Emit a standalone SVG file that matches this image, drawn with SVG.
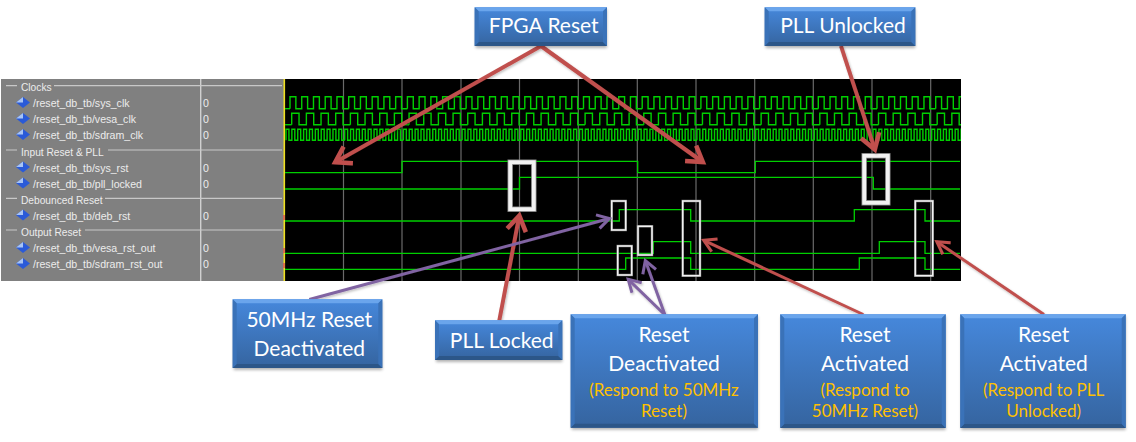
<svg xmlns="http://www.w3.org/2000/svg" xmlns:xlink="http://www.w3.org/1999/xlink" width="1136" height="442" viewBox="0 0 1136 442">
<style>
.bg{fill:#fff}
.sig{font:10.6px "Liberation Sans",Arial,sans-serif;fill:#ececec}
.head{font:10.2px "Liberation Sans",Arial,sans-serif;fill:#ececec}
.hdr{stroke:#c8c8c8;stroke-width:1.2;fill:none}
.wave{fill:none;stroke:#00d000;stroke-width:1.3}
.clk{fill:none;stroke:#00d000;stroke-width:1.4}
.grid{stroke:#6a6a6a;stroke-width:1.2}
.t{font:21px Lato,"Liberation Sans",sans-serif;fill:#fff;text-anchor:middle}
.o{font:17px Lato,"Liberation Sans",sans-serif;fill:#ffc000;text-anchor:middle}
.box{fill:url(#bg)}
.top{fill:#6aa5ec}
.side{fill:#3a72b8}
.bot{fill:#2c5688}
.shade{fill:#000;opacity:.3;filter:url(#blur)}
.hlo{fill:none;stroke:#8a8a8a}
.hli{fill:none;stroke:#f2f2f2}
.red{fill:none;stroke:#c0504d;stroke-width:4;marker-end:url(#ar)}
.redt{fill:none;stroke:#c0504d;stroke-width:3;marker-end:url(#ars)}
.pur{fill:none;stroke:#8064a2;stroke-width:3;marker-end:url(#ap)}
.dia{fill:#2a5ad8}
.dib{fill:#a8c4f4}
.tick{stroke:#e05050;stroke-width:1.5}
</style>
<defs>
<linearGradient id="bg" x1="0" y1="0" x2="0" y2="1"><stop offset="0" stop-color="#4688dc"/><stop offset="1" stop-color="#35649f"/></linearGradient>
<filter id="blur" x="-10%" y="-20%" width="120%" height="140%"><feGaussianBlur stdDeviation="1.5"/></filter>
<filter id="cs" x="-5%" y="-5%" width="110%" height="110%"><feDropShadow dx="1" dy="1.5" stdDeviation="1" flood-color="#000" flood-opacity=".25"/></filter>
<marker id="ar" markerUnits="userSpaceOnUse" viewBox="-22 -14 30 28" refX="0" refY="0" markerWidth="30" markerHeight="28" orient="auto"><path d="M-15 -9.5L0 0L-15 9.5" fill="none" stroke="#c0504d" stroke-width="4.5"/></marker>
<marker id="ars" markerUnits="userSpaceOnUse" viewBox="-18 -12 26 24" refX="0" refY="0" markerWidth="26" markerHeight="24" orient="auto"><path d="M-12 -7L0 0L-12 7" fill="none" stroke="#c0504d" stroke-width="3"/></marker>
<marker id="ap" markerUnits="userSpaceOnUse" viewBox="-18 -12 26 24" refX="0" refY="0" markerWidth="26" markerHeight="24" orient="auto"><path d="M-12 -7L0 0L-12 7" fill="none" stroke="#8064a2" stroke-width="3"/></marker>
<clipPath id="wc"><rect x="285" y="79" width="676" height="202"/></clipPath>
<path id="sysT" d="M0 12V0h5.87v12h5.87v-12h5.87v12h5.87v-12h5.87v12h5.87v-12h5.87v12h5.87v-12h5.87v12h5.87"/>
<path id="vesaT" d="M0 11.4V0h7.335v11.4h7.335v-11.4h7.335v11.4h7.335v-11.4h7.335v11.4h7.335v-11.4h7.335v11.4h7.335"/>
<path id="sdT" d="M0 11V0h2.935v11h2.935v-11h2.935v11h2.935v-11h2.935v11h2.935v-11h2.935v11h2.935v-11h2.935v11h2.935v-11h2.935v11h2.935v-11h2.935v11h2.935v-11h2.935v11h2.935v-11h2.935v11h2.935v-11h2.935v11h2.935"/>
<g id="diamond"><path class="dia" d="M0 -5.5L7 0L0 5.5L-7 0Z"/><path class="dib" d="M0 -5.5L-7 0L0 0Z"/></g>
</defs>
<rect class="bg" width="1136" height="442"/>
<g id="signal-panel">
<rect x="1" y="79" width="283" height="202" fill="#808080"/>
<path d="M200.7 79V281" stroke="#d0d0d0" stroke-width="1.4"/>
<path class="hdr" d="M6 85.7H17M54 85.7H282M6 150H17M108 150H282M6 198.3H17M105 198.3H282M6 230H17M85 230H282"/>
<text class="head" x="21" y="91">Clocks</text>
<text class="head" x="21" y="155.5">Input Reset &amp; PLL</text>
<text class="head" x="21" y="203.5">Debounced Reset</text>
<text class="head" x="21" y="236">Output Reset</text>
<use xlink:href="#diamond" x="23" y="102.5"/><text class="sig" x="33" y="107">/reset_db_tb/sys_clk</text><text class="sig" x="203" y="107">0</text>
<use xlink:href="#diamond" x="23" y="118.5"/><text class="sig" x="33" y="123">/reset_db_tb/vesa_clk</text><text class="sig" x="203" y="123">0</text>
<use xlink:href="#diamond" x="23" y="134.5"/><text class="sig" x="33" y="139">/reset_db_tb/sdram_clk</text><text class="sig" x="203" y="139">0</text>
<use xlink:href="#diamond" x="23" y="167"/><text class="sig" x="33" y="171.5">/reset_db_tb/sys_rst</text><text class="sig" x="203" y="171.5">0</text>
<use xlink:href="#diamond" x="23" y="183"/><text class="sig" x="33" y="187.5">/reset_db_tb/pll_locked</text><text class="sig" x="203" y="187.5">0</text>
<use xlink:href="#diamond" x="23" y="215"/><text class="sig" x="33" y="219.5">/reset_db_tb/deb_rst</text><text class="sig" x="203" y="219.5">0</text>
<use xlink:href="#diamond" x="23" y="247.5"/><text class="sig" x="33" y="252">/reset_db_tb/vesa_rst_out</text><text class="sig" x="203" y="252">0</text>
<use xlink:href="#diamond" x="23" y="263.5"/><text class="sig" x="33" y="268">/reset_db_tb/sdram_rst_out</text><text class="sig" x="203" y="268">0</text>
</g>
<g id="waveform">
<rect x="285" y="79" width="676" height="202" fill="#000"/>
<rect x="283.5" y="79" width="1.6" height="202" fill="#f0e020"/>
<path class="grid" d="M343.5 79V281M402 79V281M461 79V281M519.5 79V281M578.3 79V281M637.3 79V281M696 79V281M754.7 79V281M813.3 79V281M872 79V281M930.7 79V281"/>
<path class="tick" d="M284 215V220M284 248V253M284 263V268"/>
<g clip-path="url(#wc)">
<path class="clk" d="M285 108.7H290"/><path class="clk" d="M285 124.7H291.7"/>
<g class="clk" id="sys-clk"><use xlink:href="#sysT" x="290" y="96.7"/><use xlink:href="#sysT" x="348.7" y="96.7"/><use xlink:href="#sysT" x="407.4" y="96.7"/><use xlink:href="#sysT" x="466.1" y="96.7"/><use xlink:href="#sysT" x="524.8" y="96.7"/><use xlink:href="#sysT" x="583.5" y="96.7"/><use xlink:href="#sysT" x="642.2" y="96.7"/><use xlink:href="#sysT" x="700.9" y="96.7"/><use xlink:href="#sysT" x="759.6" y="96.7"/><use xlink:href="#sysT" x="818.3" y="96.7"/><use xlink:href="#sysT" x="877" y="96.7"/><use xlink:href="#sysT" x="935.7" y="96.7"/></g>
<g class="clk" id="vesa-clk"><use xlink:href="#vesaT" x="291.7" y="113.3"/><use xlink:href="#vesaT" x="350.38" y="113.3"/><use xlink:href="#vesaT" x="409.06" y="113.3"/><use xlink:href="#vesaT" x="467.74" y="113.3"/><use xlink:href="#vesaT" x="526.42" y="113.3"/><use xlink:href="#vesaT" x="585.1" y="113.3"/><use xlink:href="#vesaT" x="643.78" y="113.3"/><use xlink:href="#vesaT" x="702.46" y="113.3"/><use xlink:href="#vesaT" x="761.14" y="113.3"/><use xlink:href="#vesaT" x="819.82" y="113.3"/><use xlink:href="#vesaT" x="878.5" y="113.3"/><use xlink:href="#vesaT" x="937.18" y="113.3"/></g>
<g class="clk" id="sdram-clk"><use xlink:href="#sdT" x="286" y="129.3"/><use xlink:href="#sdT" x="344.7" y="129.3"/><use xlink:href="#sdT" x="403.4" y="129.3"/><use xlink:href="#sdT" x="462.1" y="129.3"/><use xlink:href="#sdT" x="520.8" y="129.3"/><use xlink:href="#sdT" x="579.5" y="129.3"/><use xlink:href="#sdT" x="638.2" y="129.3"/><use xlink:href="#sdT" x="696.9" y="129.3"/><use xlink:href="#sdT" x="755.6" y="129.3"/><use xlink:href="#sdT" x="814.3" y="129.3"/><use xlink:href="#sdT" x="873" y="129.3"/><use xlink:href="#sdT" x="931.7" y="129.3"/></g>
</g>
<path class="wave" d="M285 172.7H402V161.3H637.7V172.7H755.3V161.3H960"/>
<path class="wave" d="M285 189H519.5V177.3H873.3V189H960"/>
<path class="wave" d="M285 221H619.3V209.7H690.7V221H854.3V209.7H925V221H960"/>
<path class="wave" d="M285 253.3H653.3V241.7H690.7V253.3H879.3V241.7H925V253.3H960"/>
<path class="wave" d="M285 269.3H625.7V258H690.7V269.3H859.3V258H925V269.3H960"/>
</g>
<g id="highlight-pll-locked"><rect class="hlo" x="510.2" y="162.2" width="23.6" height="47" stroke-width="5.4"/><rect class="hli" x="510.2" y="162.2" width="23.6" height="47" stroke-width="3.8"/></g>
<g id="highlight-pll-unlocked"><rect class="hlo" x="864.2" y="155.8" width="23.6" height="47" stroke-width="5.4"/><rect class="hli" x="864.2" y="155.8" width="23.6" height="47" stroke-width="3.8"/></g>
<g id="highlight-deb-rise"><rect class="hlo" x="611.7" y="201" width="14" height="29" stroke-width="2.4"/><rect class="hli" x="611.7" y="201" width="14" height="29" stroke-width="1.4"/></g>
<g id="highlight-sdram-rise"><rect class="hlo" x="617.7" y="246" width="14" height="29" stroke-width="2.4"/><rect class="hli" x="617.7" y="246" width="14" height="29" stroke-width="1.4"/></g>
<g id="highlight-vesa-rise"><rect class="hlo" x="638" y="226.3" width="14" height="28.7" stroke-width="2.4"/><rect class="hli" x="638" y="226.3" width="14" height="28.7" stroke-width="1.4"/></g>
<g id="highlight-fall-1"><rect class="hlo" x="682.7" y="201" width="17.3" height="74.7" stroke-width="2.4"/><rect class="hli" x="682.7" y="201" width="17.3" height="74.7" stroke-width="1.4"/></g>
<g id="highlight-fall-2"><rect class="hlo" x="915.3" y="201" width="17.4" height="74.7" stroke-width="2.4"/><rect class="hli" x="915.3" y="201" width="17.4" height="74.7" stroke-width="1.4"/></g>
<g id="connectors" filter="url(#cs)">
<path class="red" d="M541 46L335.2 162.3"/>
<path class="red" d="M541 46L702.8 162"/>
<path class="red" d="M841 46L874.8 149.5"/>
<path class="red" d="M499.3 320.5L519.3 215.6"/>
<path class="pur" d="M309.3 299.5L609.4 218.5"/>
<path class="pur" d="M665 315L628.2 279.4"/>
<path class="pur" d="M665 315L645.3 260.5"/>
<path class="redt" d="M863.3 314.5L703.7 240.3"/>
<path class="redt" d="M1044 314.5L936.8 241.7"/>
</g>
<g id="node-fpga-reset">
<rect class="shade" x="475.7" y="9.3" width="131.3" height="38.7"/><rect class="box" x="474.7" y="7.3" width="132.3" height="38.7"/>
<path class="top" d="M474.7 7.3H607L603 11.3H478.7Z"/><path class="bot" d="M474.7 46H607L603 42H478.7Z"/><path class="side" d="M474.7 7.3L478.7 11.3V42L474.7 46ZM607 7.3L603 11.3V42L607 46Z"/>
<text class="t" x="543.7" y="33.3">FPGA Reset</text></g>
<g id="node-pll-unlocked">
<rect class="shade" x="765.7" y="9.3" width="149.6" height="38.7"/><rect class="box" x="764.7" y="7.3" width="150.6" height="38.7"/>
<path class="top" d="M764.7 7.3H915.3L911.3 11.3H768.7Z"/><path class="bot" d="M764.7 46H915.3L911.3 42H768.7Z"/><path class="side" d="M764.7 7.3L768.7 11.3V42L764.7 46ZM915.3 7.3L911.3 11.3V42L915.3 46Z"/>
<text class="t" x="843" y="33.3">PLL Unlocked</text></g>
<g id="node-50mhz-reset">
<rect class="shade" x="233.7" y="301.3" width="148.6" height="68.7"/><rect class="box" x="232.7" y="299.3" width="149.6" height="68.7"/>
<path class="top" d="M232.7 299.3H382.3L378.3 303.3H236.7Z"/><path class="bot" d="M232.7 368H382.3L378.3 364H236.7Z"/><path class="side" d="M232.7 299.3L236.7 303.3V364L232.7 368ZM382.3 299.3L378.3 303.3V364L382.3 368Z"/>
<text class="t" x="309.3" y="326.7">50MHz Reset</text><text class="t" x="309.3" y="355.7">Deactivated</text></g>
<g id="node-pll-locked">
<rect class="shade" x="436" y="322.3" width="126.3" height="39.7"/><rect class="box" x="435" y="320.3" width="127.3" height="39.7"/>
<path class="top" d="M435 320.3H562.3L558.3 324.3H439Z"/><path class="bot" d="M435 360H562.3L558.3 356H439Z"/><path class="side" d="M435 320.3L439 324.3V356L435 360ZM562.3 320.3L558.3 324.3V356L562.3 360Z"/>
<text class="t" x="501.7" y="347.7">PLL Locked</text></g>
<g id="node-reset-deactivated">
<rect class="shade" x="571.7" y="316.3" width="186.3" height="113.4"/><rect class="box" x="570.7" y="314.3" width="187.3" height="113.4"/>
<path class="top" d="M570.7 314.3H758L754 318.3H574.7Z"/><path class="bot" d="M570.7 427.7H758L754 423.7H574.7Z"/><path class="side" d="M570.7 314.3L574.7 318.3V423.7L570.7 427.7ZM758 314.3L754 318.3V423.7L758 427.7Z"/>
<text class="t" x="664" y="341.7">Reset</text><text class="t" x="664" y="370.7">Deactivated</text><text class="o" x="664" y="395.7">(Respond to 50MHz</text><text class="o" x="664" y="416.7">Reset)</text></g>
<g id="node-reset-activated-50mhz">
<rect class="shade" x="781.3" y="316.3" width="164.4" height="113.7"/><rect class="box" x="780.3" y="314.3" width="165.4" height="113.7"/>
<path class="top" d="M780.3 314.3H945.7L941.7 318.3H784.3Z"/><path class="bot" d="M780.3 428H945.7L941.7 424H784.3Z"/><path class="side" d="M780.3 314.3L784.3 318.3V424L780.3 428ZM945.7 314.3L941.7 318.3V424L945.7 428Z"/>
<text class="t" x="865" y="341.7">Reset</text><text class="t" x="865" y="370.7">Activated</text><text class="o" x="865" y="395.7">(Respond to</text><text class="o" x="865" y="417">50MHz Reset)</text></g>
<g id="node-reset-activated-pll">
<rect class="shade" x="961.3" y="316.3" width="164.4" height="113.7"/><rect class="box" x="960.3" y="314.3" width="165.4" height="113.7"/>
<path class="top" d="M960.3 314.3H1125.7L1121.7 318.3H964.3Z"/><path class="bot" d="M960.3 428H1125.7L1121.7 424H964.3Z"/><path class="side" d="M960.3 314.3L964.3 318.3V424L960.3 428ZM1125.7 314.3L1121.7 318.3V424L1125.7 428Z"/>
<text class="t" x="1043.7" y="341.7">Reset</text><text class="t" x="1043.7" y="370.7">Activated</text><text class="o" x="1043.7" y="395.7">(Respond to PLL</text><text class="o" x="1043.7" y="417">Unlocked)</text></g>
</svg>
